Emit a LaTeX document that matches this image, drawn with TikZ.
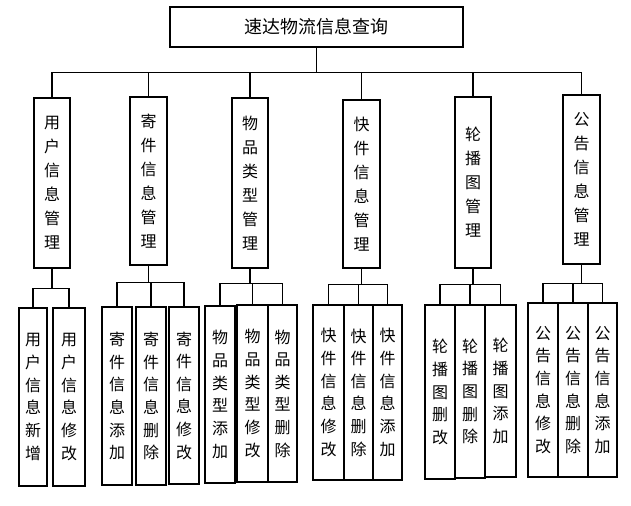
\documentclass[tikz,border=0pt]{standalone}
\usepackage{fontspec}
\setmainfont{Noto Sans CJK SC}
\tikzset{
	box/.style={draw, line width=0.9pt, inner sep=0pt, align=center, font=\fontsize{12pt}{18pt}\selectfont},
	leaf/.style={box, font=\fontsize{12pt}{17pt}\selectfont},
	wire/.style={line width=0.9pt}
}
\begin{document}
\begin{tikzpicture}[x={(0.0264cm,0)}, y={(0,-0.0264cm)}]
	\useasboundingbox (0,0) rectangle (631,505);
	\node[box, minimum width=293*0.0264cm, minimum height=40*0.0264cm, font=\fontsize{13.5pt}{16pt}\selectfont] (top) at (316.5,27) {速达物流信息查询};

	\node[box, minimum width=36*0.0264cm, minimum height=170*0.0264cm] (m1) at (52,183)  {用\\户\\信\\息\\管\\理};
	\node[box, minimum width=37*0.0264cm, minimum height=168*0.0264cm] (m2) at (148.5,181) {寄\\件\\信\\息\\管\\理};
	\node[box, minimum width=36*0.0264cm, minimum height=170*0.0264cm] (m3) at (250,183) {物\\品\\类\\型\\管\\理};
	\node[box, minimum width=37*0.0264cm, minimum height=168*0.0264cm] (m4) at (361.5,184) {快\\件\\信\\息\\管\\理};
	\node[box, minimum width=36*0.0264cm, minimum height=171*0.0264cm] (m5) at (473,182.5) {轮\\播\\图\\管\\理};
	\node[box, minimum width=37*0.0264cm, minimum height=169*0.0264cm] (m6) at (581.5,179.5) {公\\告\\信\\息\\管\\理};

	\node[leaf, minimum width=28*0.0264cm, minimum height=178*0.0264cm] (m1a) at (33,397)  {用\\户\\信\\息\\新\\增};
	\node[leaf, minimum width=32*0.0264cm, minimum height=178*0.0264cm] (m1b) at (69,397)  {用\\户\\信\\息\\修\\改};

	\node[leaf, minimum width=30*0.0264cm, minimum height=178*0.0264cm] (m2a) at (117,396) {寄\\件\\信\\息\\添\\加};
	\node[leaf, minimum width=30*0.0264cm, minimum height=178*0.0264cm] (m2b) at (151,396) {寄\\件\\信\\息\\删\\除};
	\node[leaf, minimum width=30*0.0264cm, minimum height=177*0.0264cm] (m2c) at (184,395.5) {寄\\件\\信\\息\\修\\改};

	\node[leaf, minimum width=30*0.0264cm, minimum height=177*0.0264cm] (m3a) at (220,394.5) {物\\品\\类\\型\\添\\加};
	\node[leaf, minimum width=31*0.0264cm, minimum height=177*0.0264cm] (m3b) at (252.5,393.5) {物\\品\\类\\型\\修\\改};
	\node[leaf, minimum width=29*0.0264cm, minimum height=177*0.0264cm] (m3c) at (282.5,393.5) {物\\品\\类\\型\\删\\除};

	\node[leaf, minimum width=31*0.0264cm, minimum height=175*0.0264cm] (m4a) at (328.5,392.5) {快\\件\\信\\息\\修\\改};
	\node[leaf, minimum width=29*0.0264cm, minimum height=175*0.0264cm] (m4b) at (358.5,392.5) {快\\件\\信\\息\\删\\除};
	\node[leaf, minimum width=29*0.0264cm, minimum height=175*0.0264cm] (m4c) at (387.5,392.5) {快\\件\\信\\息\\添\\加};

	\node[leaf, minimum width=30*0.0264cm, minimum height=174*0.0264cm] (m5a) at (440,392) {轮\\播\\图\\删\\改};
	\node[leaf, minimum width=30*0.0264cm, minimum height=173*0.0264cm] (m5b) at (470,391.5) {轮\\播\\图\\删\\除};
	\node[leaf, minimum width=31*0.0264cm, minimum height=172*0.0264cm] (m5c) at (500.5,391) {轮\\播\\图\\添\\加};

	\node[leaf, minimum width=30*0.0264cm, minimum height=174*0.0264cm] (m6a) at (543,390) {公\\告\\信\\息\\修\\改};
	\node[leaf, minimum width=30*0.0264cm, minimum height=174*0.0264cm] (m6b) at (573,390) {公\\告\\信\\息\\删\\除};
	\node[leaf, minimum width=29*0.0264cm, minimum height=174*0.0264cm] (m6c) at (602.5,390) {公\\告\\信\\息\\添\\加};

	% main bus
	\foreach \m in {m1,m2,m3,m4,m5,m6}
		\draw[wire] (top.south) -- ++(0,25) -| (\m.north);

	% sub buses
	\foreach \m/\d in {m1a/20,m1b/20}
		\draw[wire] (m1.south) -- ++(0,\d) -| (\m.north);
	\foreach \m in {m2a,m2b,m2c}
		\draw[wire] (m2.south) -- ++(0,17) -| (\m.north);
	\foreach \m in {m3a,m3b,m3c}
		\draw[wire] (m3.south) -- ++(0,15) -| (\m.north);
	\foreach \m in {m4a,m4b,m4c}
		\draw[wire] (m4.south) -- ++(0,16) -| (\m.north);
	\foreach \m in {m5a,m5b,m5c}
		\draw[wire] (m5.south) -- ++(0,16) -| (\m.north);
	\foreach \m in {m6a,m6b,m6c}
		\draw[wire] (m6.south) -- ++(0,19) -| (\m.north);
\end{tikzpicture}
\end{document}
